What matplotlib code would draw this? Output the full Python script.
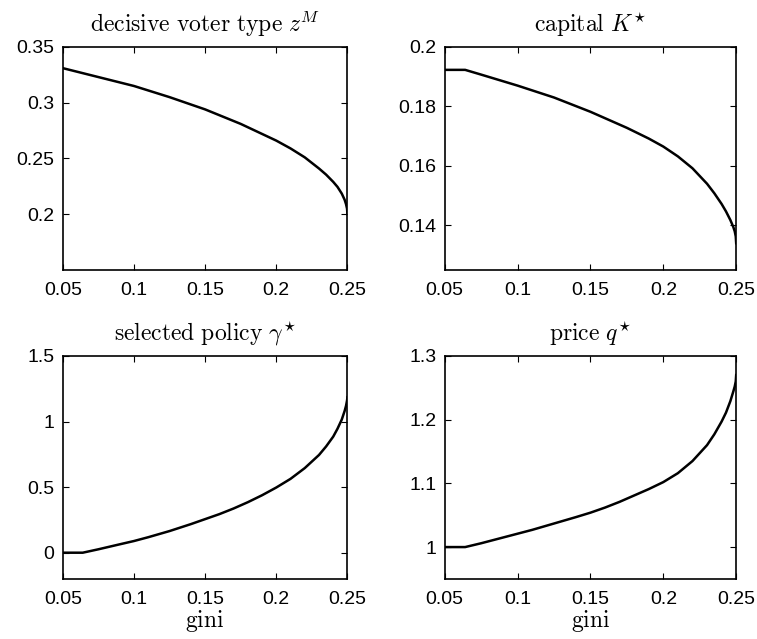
import matplotlib
matplotlib.use("Agg")
import matplotlib.pyplot as plt

plt.rcParams['font.family'] = ['Liberation Sans', 'DejaVu Sans']
plt.rcParams['mathtext.fontset'] = 'cm'

# gini grid, denser near 0.25 where the curves turn steep
gini_z = [0.05, 0.075, 0.10, 0.125, 0.15, 0.175, 0.19, 0.20, 0.21, 0.22, 0.23,
          0.235, 0.24, 0.243, 0.246, 0.248, 0.249, 0.2497, 0.25]
# same grid with the kink where the policy starts to bind
gini = [0.05, 0.064, 0.075, 0.09, 0.10, 0.11, 0.125, 0.14, 0.15, 0.16, 0.17,
        0.18, 0.19, 0.20, 0.21, 0.22, 0.23, 0.235, 0.24, 0.243, 0.246, 0.248,
        0.249, 0.2497, 0.25]
gini_k = [0.05, 0.064, 0.075, 0.10, 0.125, 0.15, 0.175, 0.19, 0.20, 0.21, 0.22,
          0.23, 0.235, 0.24, 0.243, 0.246, 0.248, 0.249, 0.2497, 0.25]

z_m = [0.331, 0.323, 0.315, 0.305, 0.294, 0.281, 0.272, 0.266, 0.259, 0.251,
       0.241, 0.2355, 0.229, 0.2245, 0.2185, 0.213, 0.209, 0.205, 0.200]
capital = [0.1923, 0.1923, 0.1907, 0.1870, 0.1830, 0.1782, 0.1728, 0.1692,
           0.1665, 0.1632, 0.1592, 0.1540, 0.1508, 0.1472, 0.1447, 0.1418,
           0.1395, 0.1380, 0.1363, 0.1340]
policy = [0.0, 0.0, 0.026, 0.064, 0.089, 0.118, 0.165, 0.218, 0.256, 0.294,
          0.337, 0.385, 0.438, 0.497, 0.563, 0.645, 0.745, 0.810, 0.885, 0.945,
          1.015, 1.080, 1.120, 1.160, 1.185]
price = [1.0, 1.0, 1.006, 1.015, 1.021, 1.027, 1.037, 1.047, 1.054, 1.062,
         1.071, 1.081, 1.091, 1.102, 1.116, 1.135, 1.160, 1.177, 1.197, 1.211,
         1.229, 1.244, 1.252, 1.260, 1.270]

titles = [r'$\mathrm{decisive\ voter\ type}\ z^M$', r'$\mathrm{capital}\ K^{\!\star}$',
          r'$\mathrm{selected\ policy}\ \gamma^{\!\star}$', r'$\mathrm{price}\ q^{\!\star}$']
xticks = [0.05, 0.1, 0.15, 0.2, 0.25]
xticklabels = ['0.05', '0.1', '0.15', '0.2', '0.25']
yticks = [[0.2, 0.25, 0.3, 0.35], [0.14, 0.16, 0.18, 0.2], [0, 0.5, 1, 1.5], [1, 1.1, 1.2, 1.3]]
yticklabels = [['0.2', '0.25', '0.3', '0.35'], ['0.14', '0.16', '0.18', '0.2'],
               ['0', '0.5', '1', '1.5'], ['1', '1.1', '1.2', '1.3']]
ylims = [(0.15, 0.35), (0.125, 0.2), (-0.2, 1.5), (0.95, 1.3)]

fig = plt.figure(figsize=(7.57, 6.39), dpi=100)
pos = [[0.083, 0.5775, 0.376, 0.349], [0.5875, 0.5775, 0.385, 0.349],
       [0.083, 0.094, 0.376, 0.349], [0.5875, 0.094, 0.385, 0.349]]
xs = [gini_z, gini_k, gini, gini]
ys = [z_m, capital, policy, price]

for i in range(4):
    ax = fig.add_axes(pos[i])
    ax.plot(xs[i], ys[i], color='black', lw=1.8)
    ax.set_xlim(0.05, 0.25)
    ax.set_ylim(*ylims[i])
    ax.set_xticks(xticks)
    ax.set_xticklabels(xticklabels)
    ax.set_yticks(yticks[i])
    ax.set_yticklabels(yticklabels[i])
    ax.tick_params(direction='in', top=True, right=True, length=4, width=0.8,
                   labelsize=14)
    ax.tick_params(axis='x', pad=9)
    ax.tick_params(axis='y', pad=6)
    for s in ax.spines.values():
        s.set_linewidth(1.2)
    ax.set_title(titles[i], fontsize=17, pad=11)
    if i >= 2:
        ax.set_xlabel(r'$\mathrm{gini}$', fontsize=17, labelpad=0)

fig.savefig('out.png', dpi=100)
